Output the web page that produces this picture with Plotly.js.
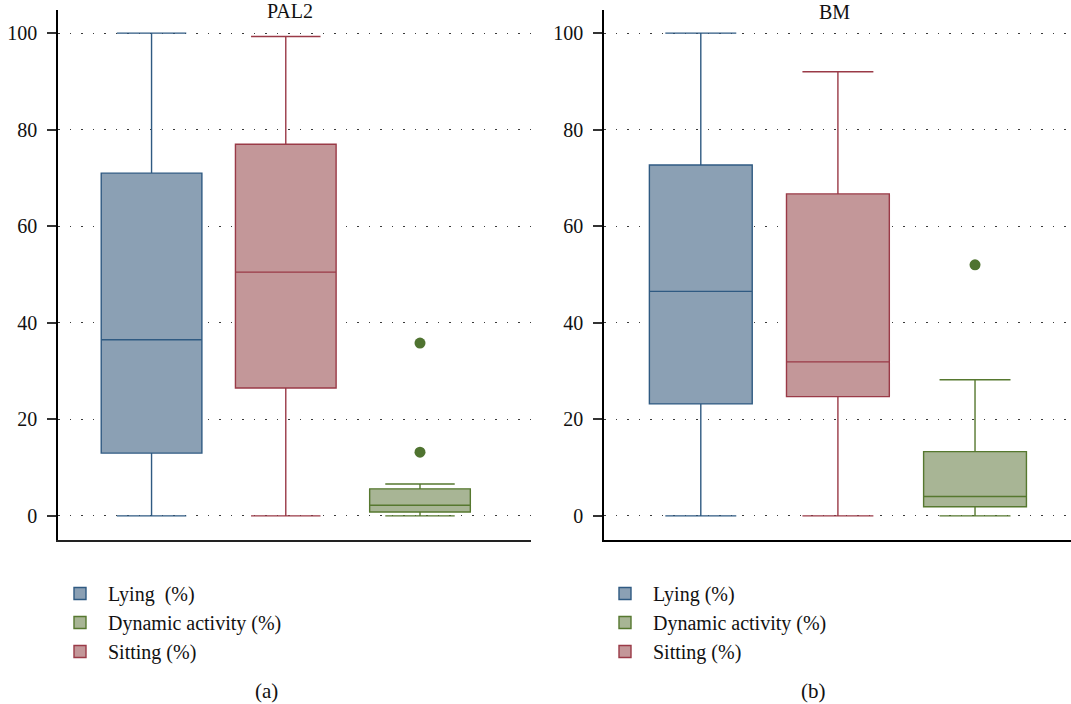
<!DOCTYPE html>
<html>
<head>
<meta charset="utf-8">
<script src="https://cdn.plot.ly/plotly-3.0.1.min.js"></script>
<style>
  html, body { margin: 0; padding: 0; background: #ffffff; }
  #chart { width: 1071px; height: 704px; }
</style>
</head>
<body>
<div id="chart"></div>
<script>
// ---- Data ----
const categories = ['Lying (%)', 'Sitting (%)', 'Dynamic activity (%)'];
const panelTitles = ['PAL2', 'BM'];
const panelTags = ['(a)', '(b)'];

// PAL2 panel: [Lying, Sitting, Dynamic]
const pal2Lower  = [0, 0, 0];
const pal2Q1     = [13.0, 26.5, 0.8];
const pal2Median = [36.5, 50.5, 2.2];
const pal2Q3     = [71.0, 77.0, 5.6];
const pal2Upper  = [100, 99.3, 6.6];
const pal2DynamicOutliers = [35.8, 13.2];

// BM panel: [Lying, Sitting, Dynamic]
const bmLower  = [0, 0, 0];
const bmQ1     = [23.2, 24.7, 1.9];
const bmMedian = [46.5, 31.9, 4.0];
const bmQ3     = [72.7, 66.7, 13.3];
const bmUpper  = [100, 92.0, 28.2];
const bmDynamicOutliers = [52.0];

const yTicks = [0, 20, 40, 60, 80, 100];

// Legend labels per panel (as shown)
const legendLabelsA = ['Lying\u00a0 (%)', 'Sitting (%)', 'Dynamic activity (%)'];
const legendLabelsB = ['Lying (%)', 'Sitting (%)', 'Dynamic activity (%)'];

// ---- Styles ----
const fills = ['#8ba0b4', '#c39799', '#a8b595'];
const lines = ['#2f5a82', '#9a3a47', '#56782f'];
const ranks = [1, 3, 2];
const outlierColor = '#4f7330';
const FONT = 'Liberation Serif, Times New Roman, serif';

function panelTraces(q1, med, q3, lo, hi, outl, xa, ya, legendId, labels) {
  const tr = [];
  for (let i = 0; i < categories.length; i++) {
    tr.push({
      type: 'box',
      name: labels[i],
      x: [categories[i]],
      q1: [q1[i]], median: [med[i]], q3: [q3[i]],
      lowerfence: [lo[i]], upperfence: [hi[i]],
      boxpoints: false,
      width: 0.75,
      whiskerwidth: 0.69,
      fillcolor: fills[i],
      line: { color: lines[i], width: 1.4 },
      xaxis: xa, yaxis: ya,
      legend: legendId,
      legendrank: ranks[i],
      hoverinfo: 'y'
    });
  }
  tr.push({
    type: 'scatter', mode: 'markers',
    x: outl.map(() => categories[2]), y: outl,
    marker: { color: outlierColor, size: 11 },
    showlegend: false,
    xaxis: xa, yaxis: ya
  });
  return tr;
}

const data = [].concat(
  panelTraces(pal2Q1, pal2Median, pal2Q3, pal2Lower, pal2Upper, pal2DynamicOutliers, 'x', 'y', 'legend', legendLabelsA),
  panelTraces(bmQ1, bmMedian, bmQ3, bmLower, bmUpper, bmDynamicOutliers, 'x2', 'y2', 'legend2', legendLabelsB)
);

const W = 1071, H = 704;
const px = v => v / W;
const py = v => 1 - v / H;

const yAxisCommon = {
  range: [-5, 104.8],
  tickvals: yTicks,
  ticks: 'outside', ticklen: 9, tickwidth: 1.5, tickcolor: '#333',
  ticklabelstandoff: 6,
  showline: true, linecolor: '#000', linewidth: 1.5,
  showgrid: true, gridcolor: '#3a3a3a', gridwidth: 1.4, griddash: '1.5px,10px',
  zeroline: false,
  tickfont: { family: FONT, size: 20, color: '#111' },
  fixedrange: true
};
const xAxisCommon = {
  type: 'category',
  categoryorder: 'array', categoryarray: categories,
  showticklabels: false, ticks: '',
  showline: true, linecolor: '#222', linewidth: 1.6,
  showgrid: false, zeroline: false,
  fixedrange: true
};

const legendCommon = {
  xanchor: 'left', yanchor: 'top',
  traceorder: 'normal', bgcolor: 'rgba(0,0,0,0)',
  itemwidth: 46,
  font: { family: FONT, size: 20, color: '#111' },
  itemclick: false, itemdoubleclick: false
};

const layout = {
  width: W, height: H,
  margin: { l: 0, r: 0, t: 0, b: 0 },
  paper_bgcolor: '#ffffff', plot_bgcolor: '#ffffff',
  showlegend: true,
  boxmode: 'overlay',
  font: { family: FONT, color: '#111' },
  xaxis: Object.assign({}, xAxisCommon, { domain: [px(58), px(531)], range: [-0.697, 2.827], anchor: 'y' }),
  yaxis: Object.assign({}, yAxisCommon, { domain: [py(540), py(10)], anchor: 'x' }),
  xaxis2: Object.assign({}, xAxisCommon, { domain: [px(604), 1], range: [-0.706, 2.70], anchor: 'y2', linewidth: 2.2, linecolor: '#000' }),
  yaxis2: Object.assign({}, yAxisCommon, { domain: [py(540), py(10)], anchor: 'x2' }),
  legend: Object.assign({}, legendCommon, { x: px(52), y: py(574) }),
  legend2: Object.assign({}, legendCommon, { x: px(597), y: py(574) }),
  annotations: [
    { text: panelTitles[0], xref: 'paper', yref: 'paper', x: px(290), y: py(11), xanchor: 'center', yanchor: 'middle', showarrow: false, font: { family: FONT, size: 20, color: '#111' } },
    { text: panelTitles[1], xref: 'paper', yref: 'paper', x: px(834), y: py(12), xanchor: 'center', yanchor: 'middle', showarrow: false, font: { family: FONT, size: 20, color: '#111' } },
    { text: panelTags[0], xref: 'paper', yref: 'paper', x: px(266), y: py(691), xanchor: 'center', yanchor: 'middle', showarrow: false, font: { family: FONT, size: 21, color: '#111' } },
    { text: panelTags[1], xref: 'paper', yref: 'paper', x: px(813), y: py(691), xanchor: 'center', yanchor: 'middle', showarrow: false, font: { family: FONT, size: 21, color: '#111' } }
  ]
};

Plotly.newPlot('chart', data, layout, { displayModeBar: false, staticPlot: false, responsive: false });
</script>
</body>
</html>
